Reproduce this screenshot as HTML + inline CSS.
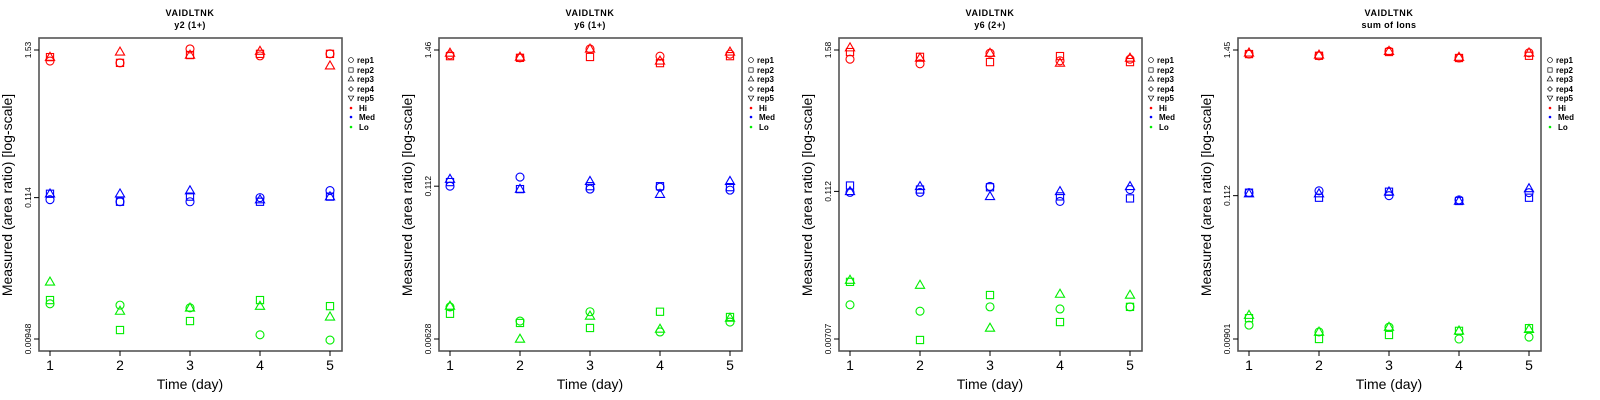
<!DOCTYPE html>
<html><head><meta charset="utf-8"><style>
html,body{margin:0;padding:0;background:#fff;}
svg{display:block;font-family:"Liberation Sans",sans-serif;}
</style></head><body>
<svg id="chart" width="1600" height="400" viewBox="0 0 1600 400"></svg>
<script>
// ---- data ----
const days = [1, 2, 3, 4, 5];
const panelTitles = ["y2 (1+)", "y6 (1+)", "y6 (2+)", "sum of Ions"];
const peptide = "VAIDLTNK";
const yTickTop = [1.53, 1.46, 1.58, 1.45];
const yTickMid = [0.114, 0.112, 0.112, 0.112];
const yTickBot = [0.00948, 0.00628, 0.00707, 0.00901];
const levels = ["Hi", "Med", "Lo"];
const reps = ["rep1", "rep2", "rep3", "rep4", "rep5"];
// values[panel][level][rep] -> per-day values (rep1 circle, rep2 square, rep3 triangle)
const p1Hi = [[1.26,1.22,1.56,1.38,1.43],[1.35,1.22,1.40,1.43,1.43],[1.35,1.48,1.40,1.50,1.16]];
const p1Med = [[0.110,0.106,0.106,0.114,0.129],[0.122,0.106,0.116,0.106,0.116],[0.122,0.122,0.129,0.110,0.116]];
const p1Lo = [[0.0176,0.0172,0.0164,0.0102,0.0093],[0.0188,0.0111,0.0130,0.0188,0.0169],[0.0259,0.0155,0.0164,0.0169,0.0140]];
const p2Hi = [[1.33,1.26,1.49,1.30,1.35],[1.30,1.26,1.28,1.14,1.30],[1.38,1.28,1.49,1.19,1.41]];
const p2Med = [[0.112,0.133,0.106,0.110,0.104],[0.121,0.106,0.112,0.112,0.110],[0.128,0.106,0.123,0.0963,0.123]];
const p2Lo = [[0.0115,0.00881,0.0105,0.00717,0.00864],[0.0101,0.00850,0.00773,0.0105,0.00951],[0.0117,0.00628,0.00970,0.00758,0.00933]];
const p3Hi = [[1.33,1.22,1.49,1.29,1.33],[1.52,1.39,1.26,1.41,1.26],[1.65,1.36,1.49,1.24,1.36]];
const p3Med = [[0.110,0.110,0.123,0.0929,0.116],[0.125,0.116,0.121,0.102,0.0982],[0.112,0.123,0.102,0.112,0.123]];
const p3Lo = [[0.0134,0.0119,0.0129,0.0124,0.0129],[0.0206,0.00694,0.0161,0.00971,0.0129],[0.0213,0.0194,0.00869,0.0164,0.0161]];
const p4Hi = [[1.35,1.31,1.42,1.26,1.38],[1.35,1.31,1.40,1.26,1.31],[1.38,1.33,1.42,1.28,1.38]];
const p4Med = [[0.118,0.122,0.112,0.104,0.118],[0.118,0.108,0.120,0.102,0.108],[0.116,0.116,0.120,0.102,0.127]];
const p4Lo = [[0.0115,0.0102,0.0111,0.00901,0.00933],[0.0130,0.00901,0.00967,0.0104,0.0109],[0.0137,0.0102,0.0111,0.0104,0.0107]];
const values = [[p1Hi,p1Med,p1Lo],[p2Hi,p2Med,p2Lo],[p3Hi,p3Med,p3Lo],[p4Hi,p4Med,p4Lo]];
const levelColors = ["#ff0000", "#0000ff", "#00ee00"];

// ---- drawing ----
const svg = document.getElementById('chart');
const NS = 'http://www.w3.org/2000/svg';
function mk(tag, attrs, parent) {
  const e = document.createElementNS(NS, tag);
  for (const k in attrs) e.setAttribute(k, attrs[k]);
  (parent || svg).appendChild(e);
  return e;
}
const offsets = [0, 400, 800, 1199];
const boxL = 39, boxR = 342, boxT = 38, boxB = 351;
const yTopPx = 50, yBotPx = 339, x1Px = 50, x5Px = 330;

function marker(g, shape, cx, cy, color) {
  const r = 4;
  let e;
  if (shape === 0) e = mk('circle', {cx: cx, cy: cy, r: r, fill: 'none', stroke: color, 'stroke-width': 1.1}, g);
  else if (shape === 1) e = mk('rect', {x: cx - 3.6, y: cy - 3.6, width: 7.2, height: 7.2, fill: 'none', stroke: color, 'stroke-width': 1.1}, g);
  else if (shape === 2) e = mk('polygon', {points: `${cx},${cy - 4.8} ${cx - 4.6},${cy + 3.2} ${cx + 4.6},${cy + 3.2}`, fill: 'none', stroke: color, 'stroke-width': 1.1}, g);
  else if (shape === 3) e = mk('polygon', {points: `${cx},${cy - 4} ${cx - 4},${cy} ${cx},${cy + 4} ${cx + 4},${cy}`, fill: 'none', stroke: color, 'stroke-width': 1.1}, g);
  else e = mk('polygon', {points: `${cx},${cy + 4.8} ${cx - 4.6},${cy - 3.2} ${cx + 4.6},${cy - 3.2}`, fill: 'none', stroke: color, 'stroke-width': 1.1}, g);
  return e;
}

panelTitles.forEach((title, p) => {
  const o = offsets[p];
  const g = mk('g', {});
  
  
  const top = yTickTop[p], bot = yTickBot[p];
  const yScale = v => yBotPx - (Math.log10(v) - Math.log10(bot)) / (Math.log10(top) - Math.log10(bot)) * (yBotPx - yTopPx);
  const xScale = d => o + x1Px + (d - days[0]) / (days[days.length - 1] - days[0]) * (x5Px - x1Px);

  // titles
  const t1 = mk('text', {x: o + 190, y: 16, 'text-anchor': 'middle', 'font-size': 9, 'font-weight': 'bold', 'letter-spacing': '0.6'}, g);
  t1.textContent = peptide;
  
  
  const t2 = mk('text', {x: o + 190, y: 28, 'text-anchor': 'middle', 'font-size': 9, 'font-weight': 'bold', 'letter-spacing': '0.4'}, g);
  t2.textContent = title;
  
  

  // box
  const box = mk('rect', {x: o + boxL, y: boxT, width: boxR - boxL, height: boxB - boxT, fill: 'none', stroke: '#555', 'stroke-width': 1.6}, g);
  
  

  // y ticks
  [top, yTickMid[p], bot].forEach(v => {
    const y = yScale(v);
    mk('line', {x1: o + boxL - 5, x2: o + boxL, y1: y, y2: y, stroke: '#000', 'stroke-width': 1}, g);
    const tl = mk('text', {x: 0, y: 0, transform: `translate(${o + boxL - 8},${y}) rotate(-90)`, 'text-anchor': 'middle', 'font-size': 8.5}, g);
    tl.textContent = String(v);
    
    
  });
  // x ticks
  days.forEach(d => {
    const x = xScale(d);
    mk('line', {x1: x, x2: x, y1: boxB, y2: boxB + 5, stroke: '#000', 'stroke-width': 1}, g);
    const tl = mk('text', {x: x, y: 370, 'text-anchor': 'middle', 'font-size': 14}, g);
    tl.textContent = String(d);
    
    
  });
  const xt = mk('text', {x: o + 190, y: 389, 'text-anchor': 'middle', 'font-size': 14}, g);
  xt.textContent = 'Time (day)';
  
  
  const yt = mk('text', {x: 0, y: 0, transform: `translate(${o + 12},195) rotate(-90)`, 'text-anchor': 'middle', 'font-size': 14}, g);
  yt.textContent = 'Measured (area ratio) [log-scale]';
  
  

  // points
  values[p].forEach((lvl, li) => {
    lvl.forEach((series, ri) => {
      series.forEach((v, di) => {
        const m = marker(g, ri, xScale(days[di]), yScale(v), levelColors[li]);
        
        
      });
    });
  });

  // legend
  const lg = mk('g', {}, g);
  
  
  const ly = [60, 70, 79, 89, 98, 108, 117, 127];
  reps.forEach((r, i) => {
    const s = mk('g', {transform: `translate(${o + 351},${ly[i]}) scale(0.6) translate(${-(o + 351)},${-ly[i]})`}, lg);
    marker(s, i, o + 351, ly[i], '#000');
    const tx = mk('text', {x: o + 357, y: ly[i] + 3, 'font-size': 8, 'font-weight': 'bold'}, lg);
    tx.textContent = r;
    
    
  });
  levels.forEach((l, i) => {
    const y = ly[5 + i];
    mk('circle', {cx: o + 351, cy: y, r: 1.3, fill: levelColors[i]}, lg);
    const tx = mk('text', {x: o + 359, y: y + 3, 'font-size': 8, 'font-weight': 'bold'}, lg);
    tx.textContent = l;
    
    
  });
});
</script>
</body></html>
